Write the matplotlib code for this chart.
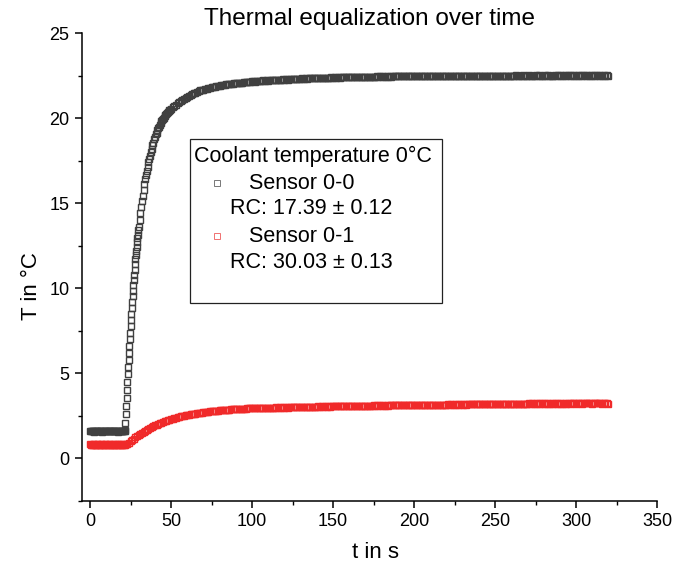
import numpy as np
import matplotlib
matplotlib.use('Agg')
import matplotlib.pyplot as plt
from matplotlib.patches import Rectangle
from matplotlib.lines import Line2D
from matplotlib.ticker import MultipleLocator

plt.rcParams['font.family'] = ['Liberation Sans', 'DejaVu Sans']

# ---------------- data ----------------
# Sensor 0-0 : segments of (start time, sample step, values)
s00_flat = [1.62, 1.59, 1.63, 1.60, 1.62, 1.58, 1.61, 1.63, 1.60, 1.62,
            1.59, 1.63, 1.61, 1.60, 1.62, 1.58, 1.63, 1.61, 1.60, 1.62,
            1.59, 1.63, 1.61, 1.60, 1.62, 1.59, 1.63, 1.60, 1.62, 1.61,
            1.59, 1.63, 1.60, 1.62, 1.58, 1.61, 1.63, 1.60, 1.62, 1.59,
            1.62, 1.61, 1.60]
s00_rise_fast = [1.62, 1.70, 2.10, 2.60, 3.10, 3.55, 4.05, 4.50, 4.95, 5.35, 5.80,
                 6.20, 6.60, 7.00, 7.40, 7.80, 8.15, 8.50, 8.85, 9.20, 9.55, 9.85,
                 10.2, 10.5, 10.8, 11.1, 11.4, 11.7, 11.95, 12.2, 12.45, 12.7,
                 12.95, 13.15, 13.4, 13.6]
s00_rise_mid = [14.0, 14.4, 14.75, 15.1, 15.45, 15.8, 16.1, 16.4, 16.65, 16.9,
                17.15, 17.4, 17.6, 17.8, 18.0, 18.2, 18.4, 18.55, 18.75, 18.9,
                19.05, 19.15, 19.3, 19.4, 19.5, 19.6, 19.7, 19.8, 19.88, 19.95,
                20.02, 20.1, 20.16, 20.22, 20.28, 20.35, 20.4, 20.45, 20.5, 20.55]
s00_rise_slow = [20.63, 20.71, 20.79, 20.87, 20.95, 21.01, 21.07, 21.13, 21.19, 21.25,
                 21.30, 21.35, 21.40, 21.45, 21.50, 21.55, 21.60, 21.63, 21.66, 21.68,
                 21.71, 21.73, 21.76, 21.78, 21.80, 21.82, 21.84, 21.86, 21.88, 21.90,
                 21.92, 21.94, 21.96, 21.98, 22.00, 22.01, 22.02, 22.03, 22.04, 22.05,
                 22.06, 22.07, 22.08, 22.09, 22.10, 22.11, 22.13, 22.14, 22.15, 22.16]
s00_plateau = [
    22.17, 22.15, 22.19, 22.18, 22.20, 22.17, 22.21, 22.19, 22.22, 22.20,
    22.23, 22.21, 22.24, 22.22, 22.25, 22.23, 22.26, 22.24, 22.27, 22.25,
    22.28, 22.26, 22.29, 22.27, 22.30, 22.28, 22.31, 22.29, 22.32, 22.30,
    22.33, 22.31, 22.34, 22.32, 22.34, 22.33, 22.35, 22.33, 22.36, 22.34,
    22.36, 22.35, 22.37, 22.35, 22.38, 22.36, 22.38, 22.37, 22.39, 22.37,
    22.39, 22.38, 22.40, 22.38, 22.40, 22.39, 22.41, 22.39, 22.41, 22.40,
    22.42, 22.40, 22.42, 22.41, 22.43, 22.41, 22.43, 22.42, 22.43, 22.42,
    22.44, 22.42, 22.44, 22.43, 22.44, 22.43, 22.45, 22.43, 22.45, 22.44,
    22.45, 22.44, 22.46, 22.44, 22.46, 22.44, 22.46, 22.45, 22.46, 22.45,
    22.47, 22.45, 22.47, 22.45, 22.47, 22.45, 22.47, 22.46, 22.47, 22.46,
    22.48, 22.46, 22.48, 22.46, 22.48, 22.46, 22.48, 22.47, 22.48, 22.46,
    22.48, 22.47, 22.49, 22.46, 22.48, 22.47, 22.49, 22.47, 22.48, 22.47,
    22.49, 22.47, 22.49, 22.47, 22.49, 22.48, 22.49, 22.47, 22.50, 22.48,
    22.49, 22.48, 22.50, 22.48, 22.49, 22.48, 22.50, 22.48, 22.50, 22.48,
    22.49, 22.48, 22.50, 22.48, 22.49, 22.48, 22.50, 22.48, 22.49, 22.48,
    22.50, 22.48, 22.50, 22.48, 22.50, 22.49, 22.50, 22.48, 22.50, 22.49,
    22.50, 22.48, 22.51, 22.49, 22.50, 22.48, 22.51, 22.49, 22.50, 22.49,
    22.51, 22.49, 22.50, 22.48, 22.51, 22.49, 22.51, 22.49, 22.50, 22.49,
    22.51, 22.49, 22.51, 22.49, 22.50, 22.49, 22.51, 22.49, 22.51, 22.50,
    22.51, 22.49, 22.51, 22.50, 22.51, 22.49, 22.52, 22.50, 22.51, 22.49,
    22.52, 22.50, 22.51, 22.49, 22.52, 22.50, 22.51, 22.50, 22.52, 22.50,
    22.51, 22.50, 22.52, 22.50, 22.51, 22.49, 22.52, 22.50, 22.51, 22.49]

# Sensor 0-1
s01_flat = [0.82, 0.79, 0.81, 0.83, 0.80, 0.82, 0.79, 0.81, 0.83, 0.80,
            0.82, 0.80, 0.81, 0.83, 0.79, 0.82, 0.80, 0.81, 0.83, 0.80,
            0.82, 0.79, 0.81, 0.82, 0.80, 0.83, 0.81, 0.79, 0.82, 0.80,
            0.81, 0.83, 0.80, 0.82, 0.79, 0.81, 0.82, 0.80, 0.83, 0.81,
            0.80, 0.82, 0.81, 0.80, 0.82]
s01_rise = [0.86, 0.93, 1.01, 1.09, 1.17, 1.25, 1.32, 1.39, 1.46, 1.52, 1.58, 1.64,
            1.70, 1.75, 1.80, 1.85, 1.90, 1.95, 1.99, 2.03, 2.07, 2.11, 2.15, 2.19,
            2.22, 2.25, 2.28, 2.31, 2.34, 2.37, 2.40, 2.42, 2.45, 2.47, 2.49, 2.51,
            2.53, 2.55, 2.57, 2.59, 2.61, 2.63, 2.64, 2.66, 2.67, 2.69, 2.70, 2.72,
            2.73, 2.74, 2.75, 2.76, 2.77, 2.78, 2.79, 2.80, 2.81, 2.82, 2.83, 2.84,
            2.85, 2.86, 2.86, 2.87, 2.88, 2.88, 2.89, 2.90, 2.90, 2.91, 2.92, 2.92,
            2.93, 2.93, 2.94, 2.94, 2.95, 2.95]
s01_plateau = [
    2.96, 2.94, 2.97, 2.95, 2.97, 2.95, 2.98, 2.96, 2.98, 2.96,
    2.99, 2.97, 2.99, 2.97, 3.00, 2.98, 3.00, 2.98, 3.01, 2.99,
    3.01, 2.99, 3.02, 3.00, 3.02, 3.00, 3.03, 3.01, 3.03, 3.01,
    3.04, 3.02, 3.04, 3.02, 3.05, 3.03, 3.05, 3.03, 3.05, 3.04,
    3.06, 3.04, 3.06, 3.04, 3.07, 3.05, 3.07, 3.05, 3.07, 3.06,
    3.08, 3.06, 3.08, 3.06, 3.08, 3.07, 3.09, 3.07, 3.09, 3.07,
    3.09, 3.08, 3.10, 3.08, 3.10, 3.08, 3.10, 3.09, 3.11, 3.09,
    3.11, 3.09, 3.11, 3.10, 3.12, 3.10, 3.12, 3.10, 3.12, 3.11,
    3.13, 3.11, 3.13, 3.11, 3.13, 3.12, 3.14, 3.12, 3.14, 3.12,
    3.14, 3.13, 3.15, 3.13, 3.15, 3.13, 3.15, 3.14, 3.15, 3.14,
    3.15, 3.13, 3.15, 3.14, 3.16, 3.14, 3.16, 3.14, 3.16, 3.15,
    3.16, 3.15, 3.17, 3.15, 3.17, 3.15, 3.17, 3.16, 3.17, 3.16,
    3.18, 3.16, 3.18, 3.16, 3.18, 3.17, 3.18, 3.17, 3.19, 3.17,
    3.19, 3.17, 3.19, 3.18, 3.19, 3.18, 3.20, 3.18, 3.20, 3.18,
    3.20, 3.18, 3.20, 3.19, 3.20, 3.19, 3.21, 3.19, 3.21, 3.19,
    3.21, 3.19, 3.21, 3.20, 3.21, 3.20, 3.21, 3.20, 3.22, 3.20,
    3.22, 3.20, 3.22, 3.20, 3.22, 3.21, 3.22, 3.21, 3.22, 3.21,
    3.23, 3.21, 3.23, 3.21, 3.23, 3.21, 3.23, 3.22, 3.23, 3.21,
    3.23, 3.22, 3.23, 3.22, 3.24, 3.22, 3.24, 3.22, 3.23, 3.22,
    3.24, 3.22, 3.24, 3.22, 3.24, 3.22, 3.24, 3.23, 3.24, 3.22,
    3.24, 3.23, 3.24, 3.22, 3.24, 3.23, 3.24, 3.23, 3.24, 3.22,
    3.24, 3.23, 3.24, 3.23, 3.24, 3.22, 3.24, 3.23, 3.24, 3.22]

s00_segments = [(0.0, 0.5, s00_flat), (21.25, 0.25, s00_rise_fast),
                (30.5, 0.5, s00_rise_mid), (51.0, 1.0, s00_rise_slow),
                (101.0, 1.0, s00_plateau)]
s01_segments = [(0.0, 0.5, s01_flat), (23.0, 1.0, s01_rise),
                (101.0, 1.0, s01_plateau)]

series_labels = ['Sensor 0-0', 'Sensor 0-1']
rc_labels = ['RC: 17.39 \u00b1 0.12', 'RC: 30.03 \u00b1 0.13']
legend_title = 'Coolant temperature 0\u00b0C'
xticks = [0, 50, 100, 150, 200, 250, 300, 350]
yticks = [0, 5, 10, 15, 20, 25]


def build(segments):
    t, v = [], []
    for start, step, vals in segments:
        t.extend(start + step * np.arange(len(vals)))
        v.extend(vals)
    return np.array(t), np.array(v)


t00, T00 = build(s00_segments)
t01, T01 = build(s01_segments)

# ---------------- figure ----------------
W, H = 676, 572
fig = plt.figure(figsize=(W / 100, H / 100), dpi=100)
ax = fig.add_axes([82 / W, 1 - 501 / H, 575 / W, 468 / H])

c_black = '#404040'
c_red = '#f02a2a'
ms = 4.2
mew = 1.0
ax.plot(t00, T00, ls='none', marker='s', ms=ms, mfc='none', mec=c_black, mew=mew)
ax.plot(t01, T01, ls='none', marker='s', ms=ms, mfc='none', mec=c_red, mew=mew)

ax.set_xlim(-5, 350)
ax.set_ylim(-2.5, 25)
ax.set_xticks(xticks)
ax.set_yticks(yticks)
ax.xaxis.set_minor_locator(MultipleLocator(25))
ax.yaxis.set_minor_locator(MultipleLocator(2.5))
for s in ['top', 'right']:
    ax.spines[s].set_visible(False)
for s in ['left', 'bottom']:
    ax.spines[s].set_linewidth(1.1)
ax.tick_params(which='major', direction='out', length=5, width=1.1, labelsize=13, pad=4)
ax.tick_params(which='minor', direction='out', length=3, width=1.0)

ax.set_xlabel('t in s', fontsize=16)
ax.set_ylabel('T in \u00b0C', fontsize=16)
ax.xaxis.set_label_coords(0.51, -0.088)
ax.yaxis.set_label_coords(-0.07, 0.46)
ax.set_title('Thermal equalization over time', fontsize=17.5, pad=6)


# ---------------- legend box (drawn in figure pixels) ----------------
def P(x, y):
    return (x / W, 1 - y / H)


fig.patches.append(Rectangle(P(190, 303), 252 / W, 164 / H, transform=fig.transFigure,
                             fill=False, edgecolor='#222222', lw=0.9))
fs_leg = 15.5
fig.text(*P(194, 156), legend_title, fontsize=fs_leg, va='center', ha='left')
fig.text(*P(249, 183), series_labels[0], fontsize=fs_leg, va='center', ha='left')
fig.text(*P(230, 209), rc_labels[0], fontsize=fs_leg, va='center', ha='left')
fig.text(*P(249, 236), series_labels[1], fontsize=fs_leg, va='center', ha='left')
fig.text(*P(230, 262), rc_labels[1], fontsize=fs_leg, va='center', ha='left')
fig.lines.append(Line2D([P(217, 183)[0]], [P(217, 183)[1]], transform=fig.transFigure,
                        ls='none', marker='s', ms=4, mfc='none', mec='#777777', mew=0.7))
fig.lines.append(Line2D([P(217, 236)[0]], [P(217, 236)[1]], transform=fig.transFigure,
                        ls='none', marker='s', ms=4, mfc='none', mec='#f07070', mew=0.7))

fig.savefig('out.png', dpi=100)
